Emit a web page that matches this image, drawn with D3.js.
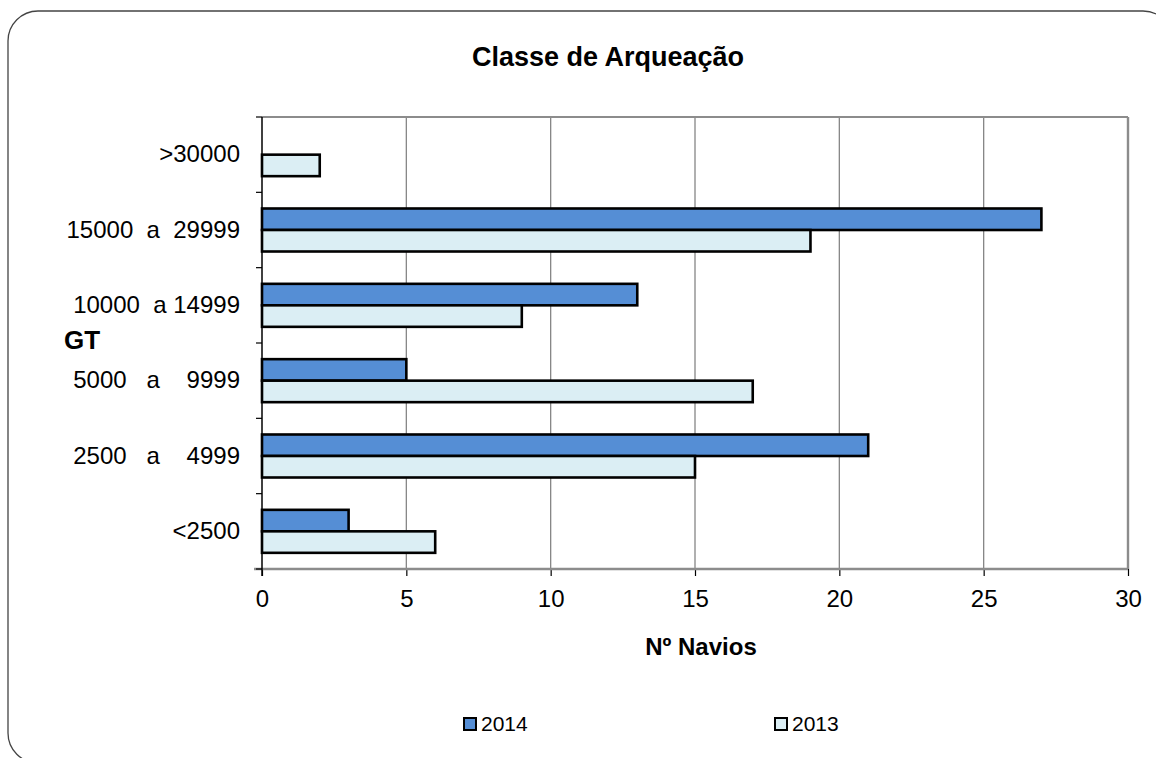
<!DOCTYPE html>
<html>
<head>
<meta charset="utf-8">
<script src="https://cdn.jsdelivr.net/npm/d3@7"></script>
<style>
  body { margin: 0; background: #fff; }
  svg { font-family: "Liberation Sans", Arial, sans-serif; }
  .cat { white-space: pre; }
</style>
</head>
<body>
<svg id="chart" width="1156" height="758"></svg>
<script>
// data
const categories = [">30000", "15000  a  29999", "10000  a 14999", "5000   a    9999", "2500   a    4999", "<2500"];
const series = ["2014", "2013"];
const values2014 = [0, 27, 13, 5, 21, 3];
const values2013 = [2, 19, 9, 17, 15, 6];
const xTicks = [0, 5, 10, 15, 20, 25, 30];
const colors = ["#558ed5", "#dbeef4"];

const margin = { top: 117, right: 28, bottom: 189, left: 262 };
const width = 1156 - margin.left - margin.right;
const height = 758 - margin.top - margin.bottom;

const svg = d3.select("#chart");

// outer rounded frame (runs off the bottom/right)
svg.append("rect")
    .attr("x", 8).attr("y", 11)
    .attr("width", 1165).attr("height", 752)
    .attr("rx", 30).attr("ry", 30)
    .attr("fill", "none")
    .attr("stroke", "#444")
    .attr("stroke-width", 1.3);

svg.append("text")
    .attr("x", 608).attr("y", 66)
    .attr("text-anchor", "middle")
    .attr("font-size", 27)
    .attr("font-weight", "bold")
    .text("Classe de Arqueação");

const g = svg.append("g")
    .attr("transform", "translate(" + margin.left + "," + margin.top + ")");

const x = d3.scaleLinear().domain([0, 30]).range([0, width]);
const y = d3.scaleBand().domain(categories).range([0, height]);
const ySub = d3.scaleBand().domain(series).range([0, y.bandwidth()])
    .paddingInner(0).paddingOuter(0.752);

// gridlines
g.append("g")
    .selectAll("line")
    .data(xTicks.slice(1))
    .join("line")
    .attr("x1", d => x(d)).attr("x2", d => x(d))
    .attr("y1", 0).attr("y2", height)
    .attr("stroke", "#868686")
    .attr("stroke-width", 1.3);

// plot border top
g.append("line")
    .attr("x1", 0).attr("x2", width)
    .attr("y1", 0).attr("y2", 0)
    .attr("stroke", "#8c8c8c").attr("stroke-width", 2.2);

// bars
const rows = categories.map((c, i) => ({ cat: c, vals: [values2014[i], values2013[i]] }));
const groups = g.append("g")
    .selectAll("g")
    .data(rows)
    .join("g")
    .attr("transform", d => "translate(0," + y(d.cat) + ")");

groups.selectAll("rect")
    .data(d => d.vals.map((v, j) => ({ key: series[j], value: v, color: colors[j] })).filter(d => d.value > 0))
    .join("rect")
    .attr("x", x(0))
    .attr("y", d => ySub(d.key))
    .attr("width", d => x(d.value) - x(0))
    .attr("height", ySub.bandwidth())
    .attr("fill", d => d.color)
    .attr("stroke", "#000")
    .attr("stroke-width", 2.6);

// x axis
const xAxis = g.append("g")
    .attr("transform", "translate(0," + height + ")")
    .call(d3.axisBottom(x).tickValues(xTicks).tickSize(7).tickPadding(14));
xAxis.select(".domain").remove();
xAxis.selectAll(".tick line").attr("stroke", "#000").attr("stroke-width", 1.2);
xAxis.selectAll("text").attr("font-size", 24).attr("fill", "#000")
    .attr("font-family", "Liberation Sans, Arial, sans-serif");
xAxis.append("line")
    .attr("x1", -8).attr("x2", width)
    .attr("y1", 0).attr("y2", 0)
    .attr("stroke", "#8c8c8c").attr("stroke-width", 2.4);

// right border
g.append("line")
    .attr("x1", width).attr("x2", width)
    .attr("y1", 0).attr("y2", height)
    .attr("stroke", "#8c8c8c").attr("stroke-width", 2.4);

// y axis
const yAxis = g.append("g")
    .call(d3.axisLeft(y).tickSize(0).tickPadding(22));
yAxis.select(".domain").remove();
yAxis.selectAll("text").attr("font-size", 24).attr("fill", "#000")
    .attr("class", "cat")
    .attr("font-family", "Liberation Sans, Arial, sans-serif");
g.append("line")
    .attr("x1", 0).attr("x2", 0)
    .attr("y1", 0).attr("y2", height + 7)
    .attr("stroke", "#000").attr("stroke-width", 1.5);
g.append("g")
    .selectAll("line")
    .data(d3.range(categories.length + 1))
    .join("line")
    .attr("x1", -6).attr("x2", 0)
    .attr("y1", i => i * y.step()).attr("y2", i => i * y.step())
    .attr("stroke", "#000").attr("stroke-width", 1.2);

// axis titles
svg.append("text")
    .attr("x", 64).attr("y", 349)
    .attr("font-size", 26).attr("font-weight", "bold")
    .text("GT");

svg.append("text")
    .attr("x", 701).attr("y", 655)
    .attr("text-anchor", "middle")
    .attr("font-size", 24).attr("font-weight", "bold")
    .text("Nº Navios");

// legend
const legendX = [464, 775];
const legend = svg.append("g").selectAll("g")
    .data(series)
    .join("g")
    .attr("transform", (d, i) => "translate(" + legendX[i] + ",718)");
legend.append("rect")
    .attr("width", 12).attr("height", 12)
    .attr("fill", (d, i) => colors[i])
    .attr("stroke", "#000").attr("stroke-width", 2);
legend.append("text")
    .attr("x", 17).attr("y", 13)
    .attr("font-size", 21)
    .text(d => d);
</script>
</body>
</html>
